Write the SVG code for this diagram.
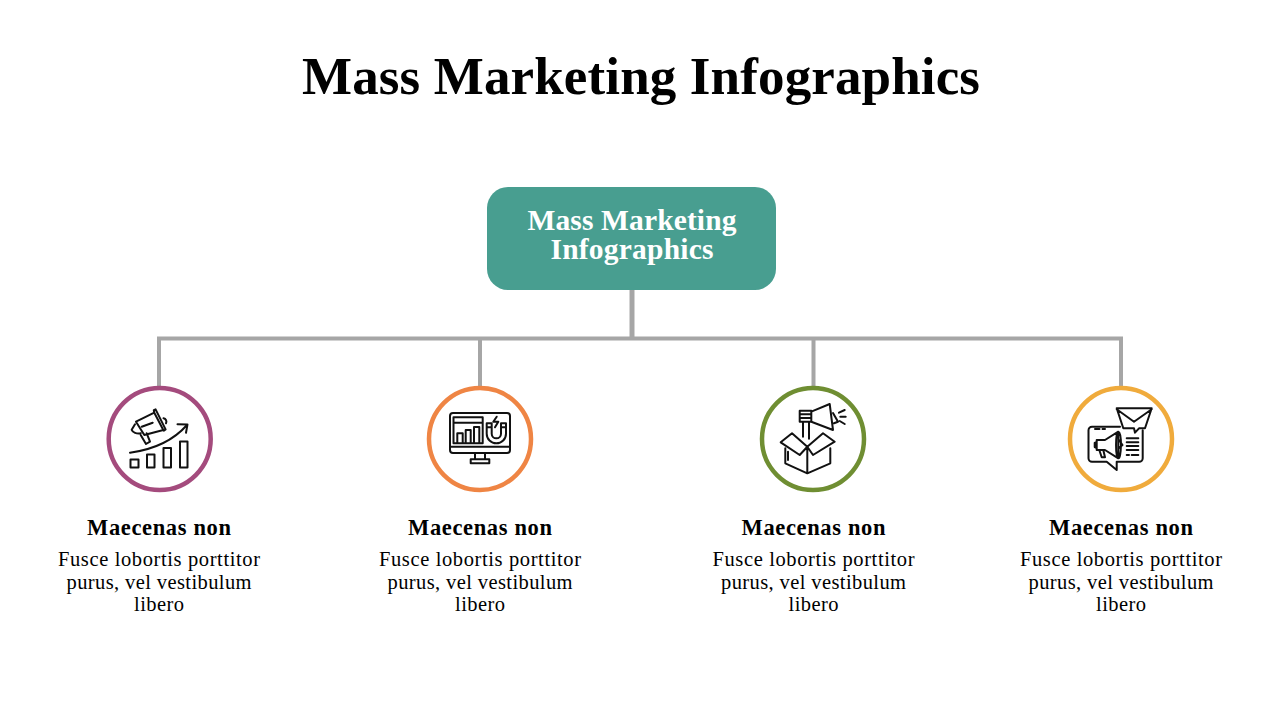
<svg xmlns="http://www.w3.org/2000/svg" width="1280" height="720" viewBox="0 0 1280 720">
<style>
text{font-family:"Liberation Serif","DejaVu Serif",serif;text-anchor:middle;fill:#000}
.t{font-size:53px;font-weight:700}
.c{font-size:29.500px;font-weight:700;fill:#fff}
.h{font-size:22.500px;font-weight:700}
.b{font-size:20.500px}
.ln{fill:none;stroke:#a6a6a6;stroke-width:4}
.ring{fill:#fff;stroke-width:4.500}
.i{fill:none;stroke:#111;stroke-width:2;stroke-linejoin:round;stroke-linecap:round}
</style>
<rect width="1280" height="720" fill="#fff"/>
<text id="title" class="t" x="641" y="94" textLength="678" lengthAdjust="spacing">Mass Marketing Infographics</text>
<g id="connectors">
<path class="ln" d="M632 290V338" style="stroke-width:5"/>
<path class="ln" d="M159 387V338.500H1121V387M480 338.500V387M813.500 338.500V387"/>
</g>
<g id="root">
<rect x="487" y="187" width="289" height="103" rx="21" fill="#489e90"/>
<text class="c" x="632" y="230" textLength="209">Mass Marketing</text>
<text class="c" x="632" y="259" textLength="163">Infographics</text>
</g>
<g id="node1">
<circle class="ring" cx="159.700" cy="439" r="51" stroke="#a44b7d"/>
<path class="i" d="M130.500 459.500h8v8h-8zM147 454.500h7.500v13H147zM163.500 448h7.500v19.500h-7.500zM180 441.500h7.500v26H180z"/>
<path class="i" d="M130 452.700C150 450 172 442 187 425M177.500 424.200l10 .2-1.500 8.300"/>
<path class="i" d="M136 421.700L154.300 412.700 163.300 430 144.300 435zM154.300 412.700l-.5-2.500 1.800-.8 10 20-1.800 1.300-1-1.500M135 424.300l-3.300 5.500c1 2.500 5 4.500 9 3.500M140.700 435l5.300 9 4-2.300-3.300-8.400M141.700 426.700l11-4M163.500 418.300c2.500 .5 3.500 3 2.500 5"/>
<text class="h" x="159" y="535" textLength="144">Maecenas non</text>
<text class="b" x="159" y="566" textLength="202">Fusce lobortis porttitor</text>
<text class="b" x="159" y="589" textLength="185">purus, vel vestibulum</text>
<text class="b" x="159" y="611" textLength="50">libero</text>
</g>
<g id="node2">
<circle class="ring" cx="480" cy="439" r="51" stroke="#ef8544"/>
<rect class="i" x="450" y="413" width="60" height="40" rx="3"/>
<path class="i" d="M450 446.700h60M475 453.300v6M485 453.300v6M470.700 459.300h18.600v4h-18.600z"/>
<path class="i" d="M453.500 417.300h29.200v26h-29.200zM453.500 422.700h29.200M457.300 443.300v-10h5.400v10M465.700 443.300v-13.300h5v13.300M474 443.300v-16.300h5.300v16.300"/>
<path class="i" d="M486.700 423.300v10.400a9.650 9.650 0 0 0 19.300 0v-10.400h-5v10.400a4.650 4.650 0 0 1-9.300 0v-10.400zM486.700 427.300h5M501 427.300h5M496.700 416.700l-3.400 5h5l-3.300 5.600"/>
<text class="h" x="480" y="535" textLength="144">Maecenas non</text>
<text class="b" x="480" y="566" textLength="202">Fusce lobortis porttitor</text>
<text class="b" x="480" y="589" textLength="185">purus, vel vestibulum</text>
<text class="b" x="480" y="611" textLength="50">libero</text>
</g>
<g id="node3">
<circle class="ring" cx="813" cy="439" r="51" stroke="#6f8e32"/>
<path class="i" d="M785.300 448.300v15l22 10 23-10v-15M807.300 473.300v-26.600M780.700 442.300l11.300-9 15.300 13.400-7.600 8.300zM834.700 441.700l-11.700-8.400-15.700 13.400 5.700 8.300zM788 451.700v8.300"/>
<path class="i" d="M803 421.700v15M809 421.700v17M799.700 410.700h11.600v11h-11.600zM799.700 414.300h11.600M799.700 418h11.600M811.300 411.700l18.400-7.700 3.300 26-21.700-8.300M833 413l5 8.700-4 1.600M839 412.700l5.700-2.700M840.300 416.700h5.400M839.700 421l5 3"/>
<text class="h" x="813.500" y="535" textLength="144">Maecenas non</text>
<text class="b" x="813.500" y="566" textLength="202">Fusce lobortis porttitor</text>
<text class="b" x="813.500" y="589" textLength="185">purus, vel vestibulum</text>
<text class="b" x="813.500" y="611" textLength="50">libero</text>
</g>
<g id="node4">
<circle class="ring" cx="1121" cy="439" r="51" stroke="#f0ab3c"/>
<path class="i" d="M1120 426.700h-28a3.500 3.500 0 0 0-3.500 3.500v28a3.500 3.500 0 0 0 3.500 3.500h14.700l10 8.300v-8.300h22.500a3.500 3.500 0 0 0 3.500-3.500v-28"/>
<path class="i" d="M1116.700 408.300h35l-6.700 20h-6l-4 4.400-1-4.400h-10.700zM1116.700 409.300l17.300 12.400 17.700-12.400" fill="#fff"/>
<path class="i" d="M1096.700 440h8.300l13.300-8.300v26.600l-13.300-8.300h-8.300zM1118.300 431.700c-3 1-3 25.600 0 26.600s4-25.600 0-26.600zM1096.700 442l-2 1v4l2 1M1099.300 450l2.400 7.300h3.300l-1.700-7.300M1119 440l3.500 5-3.500 3M1126.700 438.300h11.600M1126.700 442.300h11.600M1126.700 446h11.600M1126.700 450h11.600M1126.700 455h2.300M1131.700 455h6.600M1095 429h4.500M1102.500 429h2.500"/>
<text class="h" x="1121" y="535" textLength="144">Maecenas non</text>
<text class="b" x="1121" y="566" textLength="202">Fusce lobortis porttitor</text>
<text class="b" x="1121" y="589" textLength="185">purus, vel vestibulum</text>
<text class="b" x="1121" y="611" textLength="50">libero</text>
</g>
</svg>
